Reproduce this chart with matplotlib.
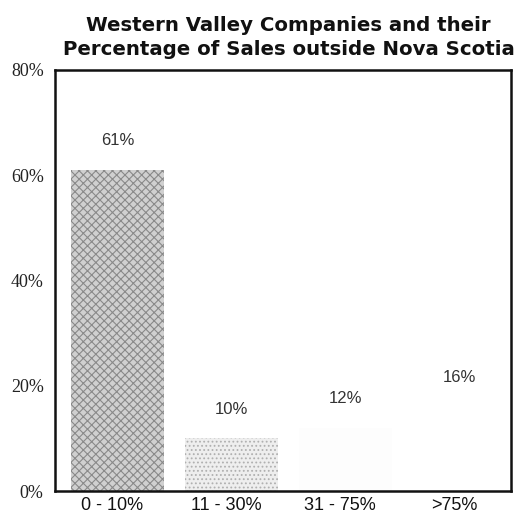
import matplotlib
matplotlib.use("Agg")
import matplotlib.pyplot as plt

categories = ["0 - 10%", "11 - 30%", "31 - 75%", ">75%"]
values = [61, 10, 12, 16]
value_labels = ["61%", "10%", "12%", "16%"]
y_ticks = [0, 20, 40, 60, 80]
y_tick_labels = ["0%", "20%", "40%", "60%", "80%"]

plt.rcParams["hatch.linewidth"] = 0.8
fig = plt.figure(figsize=(5.22, 5.17), dpi=100)
ax = fig.add_axes([0.105, 0.050, 0.874, 0.815])

faces = ["#d0d0d0", "#eeeeee", "#fdfdfd", "#ffffff"]
hatches = ["xxxx", "....", "", ""]
hcolors = ["#8a8a8a", "#b0b0b0", "#ffffff", "#ffffff"]
x = range(len(categories))
for i, v in enumerate(values):
    ax.bar(i + 0.05, v, width=0.82, color=faces[i], hatch=hatches[i],
           edgecolor=hcolors[i], linewidth=0)
    ax.text(i + 0.05, v + 5.5, value_labels[i], ha="center", va="center",
            fontsize=12, family="Liberation Sans", color="#333333")

ax.set_xlim(-0.5, 3.5)
ax.set_ylim(0, 80)
ax.set_yticks(y_ticks)
ax.set_yticklabels(y_tick_labels, family="Liberation Serif", fontsize=13,
                   color="#222222")
ax.set_xticks(list(x))
ax.set_xticklabels(categories, family="Liberation Sans", fontsize=13,
                   color="#111111")
ax.tick_params(axis="both", length=0)
ax.tick_params(axis="x", pad=4)
ax.tick_params(axis="y", pad=8)
for s in ax.spines.values():
    s.set_linewidth(1.8)
    s.set_color("#111111")

fig.text(0.552, 0.940, "Western Valley Companies and their", ha="center", va="baseline",
         fontsize=14.2, fontweight="bold", family="DejaVu Sans", color="#111111")
fig.text(0.554, 0.894, "Percentage of Sales outside Nova Scotia", ha="center", va="baseline",
         fontsize=14.2, fontweight="bold", family="DejaVu Sans", color="#111111")

fig.savefig("out.png", dpi=100)
